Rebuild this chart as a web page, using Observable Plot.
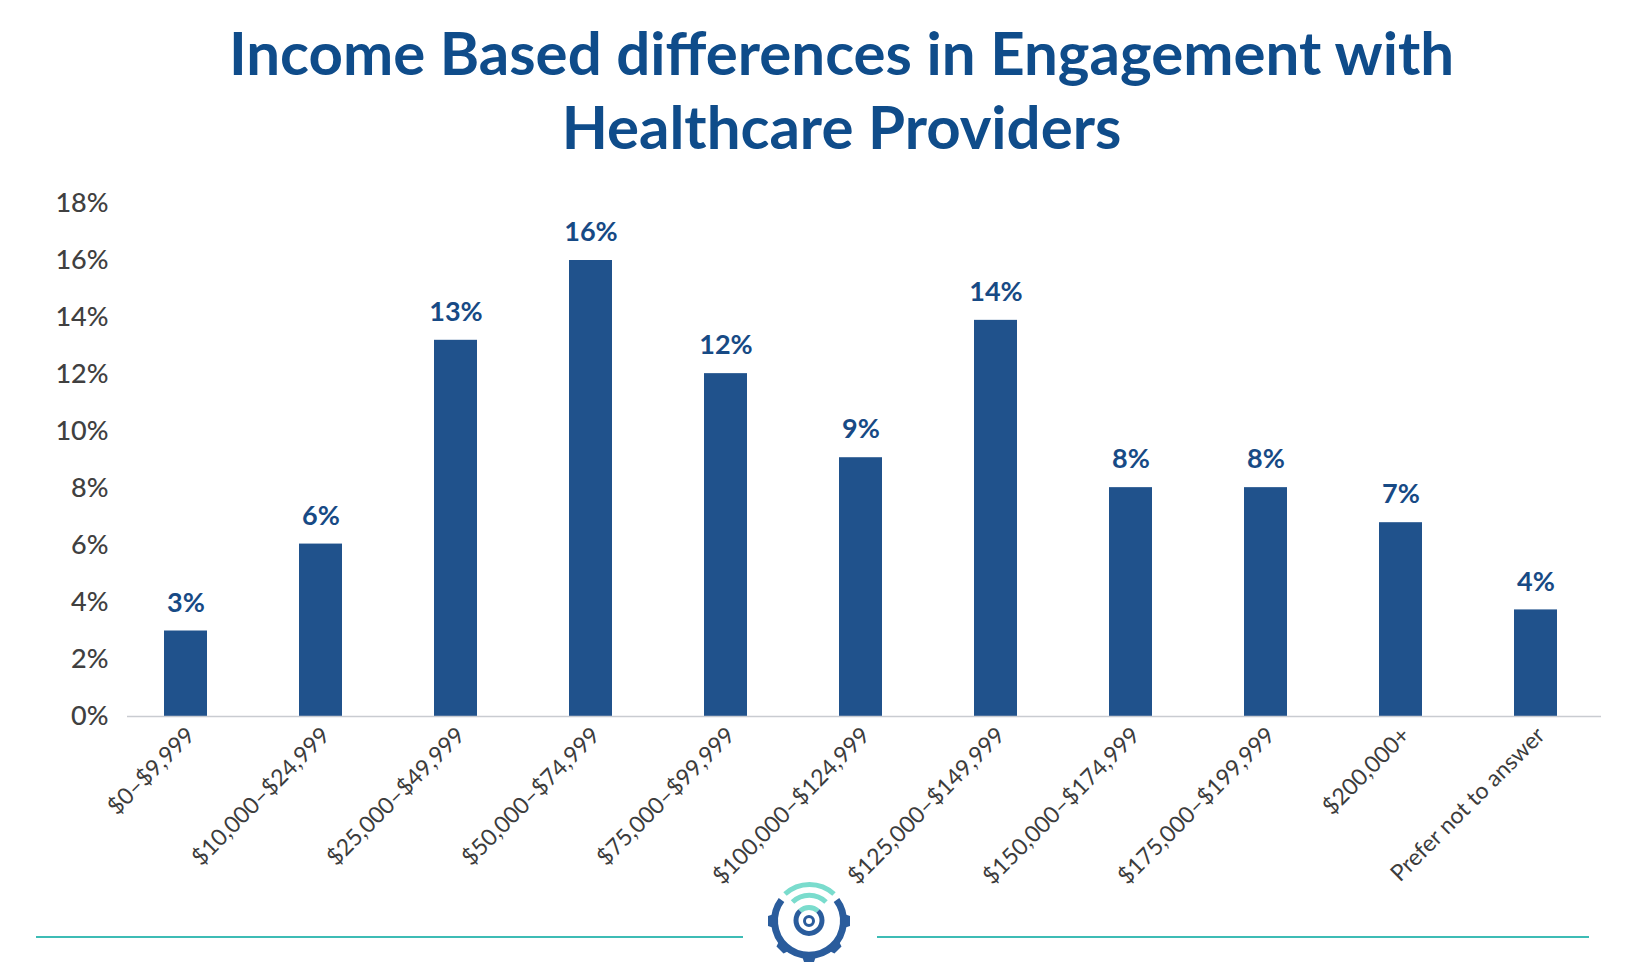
<!DOCTYPE html>
<html>
<head>
<meta charset="utf-8">
<script src="https://cdn.jsdelivr.net/npm/d3@7"></script>
<script src="https://cdn.jsdelivr.net/npm/@observablehq/plot@0.6"></script>
<style>
html,body{margin:0;padding:0;background:#fff;overflow:hidden}
body{width:1625px;height:968px;position:relative;font-family:Lato,sans-serif}
#title{height:170px;margin:0;padding:15px 0 0 58px;box-sizing:border-box;text-align:center;font:700 60px/74px Lato,sans-serif;color:#0f4c8a}
#chart svg{display:block}
#footer{position:absolute;left:0;top:860px}
</style>
</head>
<body>
<h1 id="title">Income Based differences in Engagement with<br>Healthcare Providers</h1>
<div id="chart"></div>
<svg id="footer" width="1625" height="108" viewBox="0 860 1625 108" fill="none">
  <path d="M36 937H743M877 937H1589" stroke="#3dbcb5" stroke-width="2"/>
  <g stroke-linecap="butt">
    <path d="M781.500 900A34.500 34.500 0 1 0 836.500 900" stroke="#2a5c9c" stroke-width="7"/>
    <g fill="#2a5c9c">
      <path id="tooth" d="M801 953H817L814 962H804Z"/>
      <use href="#tooth" transform="rotate(45 809 921)"/>
      <use href="#tooth" transform="rotate(-45 809 921)"/>
      <use href="#tooth" transform="rotate(90 809 921)"/>
      <use href="#tooth" transform="rotate(-90 809 921)"/>
    </g>
    <path d="M785 894A36 36 0 0 1 834 894" stroke="#7adccd" stroke-width="5"/>
    <path d="M792.500 902A24 24 0 0 1 826 902" stroke="#7adccd" stroke-width="5"/>
    <path d="M800 911A13 13 0 0 1 818 911" stroke="#7adccd" stroke-width="5"/>
    <path d="M800 911A13 13 0 1 0 818 911" stroke="#2a5c9c" stroke-width="5"/>
    <circle cx="809" cy="921" r="4.5" stroke="#2a5c9c" stroke-width="3"/>
  </g>
</svg>
<script>
const categories = ["$0–$9,999","$10,000–$24,999","$25,000–$49,999","$50,000–$74,999","$75,000–$99,999","$100,000–$124,999","$125,000–$149,999","$150,000–$174,999","$175,000–$199,999","$200,000+","Prefer not to answer"];
const values = [3, 6.05, 13.2, 16, 12.03, 9.08, 13.9, 8.03, 8.03, 6.8, 3.74];
const valueLabels = ["3%","6%","13%","16%","12%","9%","14%","8%","8%","7%","4%"];
const yTicks = [0,2,4,6,8,10,12,14,16,18];

const rows = categories.map((c,i)=>({category:c,value:values[i],label:valueLabels[i]}));

const chart = Plot.plot({
  width:1625, height:798,
  marginLeft:117, marginRight:24, marginTop:0, marginBottom:0,
  style:{background:"transparent",fontFamily:"Lato,sans-serif"},
  x:{domain:categories,range:[117.5,1603],paddingInner:0.68,paddingOuter:0.34,align:0.5,label:null},
  y:{domain:[0,18],range:[546,33],label:null},
  marks:[
    Plot.axisY({ticks:yTicks,tickFormat:d=>d+"%",tickSize:0,tickPadding:9,fontSize:27,fontWeight:500,fill:"#404040",label:null}),
    Plot.axisX({tickSize:0,tickPadding:15,tickRotate:-45,fontSize:23,fill:"#3c3c3c",label:null,anchor:"bottom",y:0,frameAnchor:"bottom",dx:5}),
    Plot.barY(rows,{x:"category",y:"value",fill:"#20528c"}),
    Plot.ruleY([0],{stroke:"#c9ccd1",strokeWidth:1.5,insetLeft:10}),
    Plot.text(rows,{x:"category",y:"value",text:"label",dy:-28,fontSize:27,fontWeight:700,fill:"#174a85"})
  ]
});
document.getElementById("chart").append(chart);
</script>
</body>
</html>
